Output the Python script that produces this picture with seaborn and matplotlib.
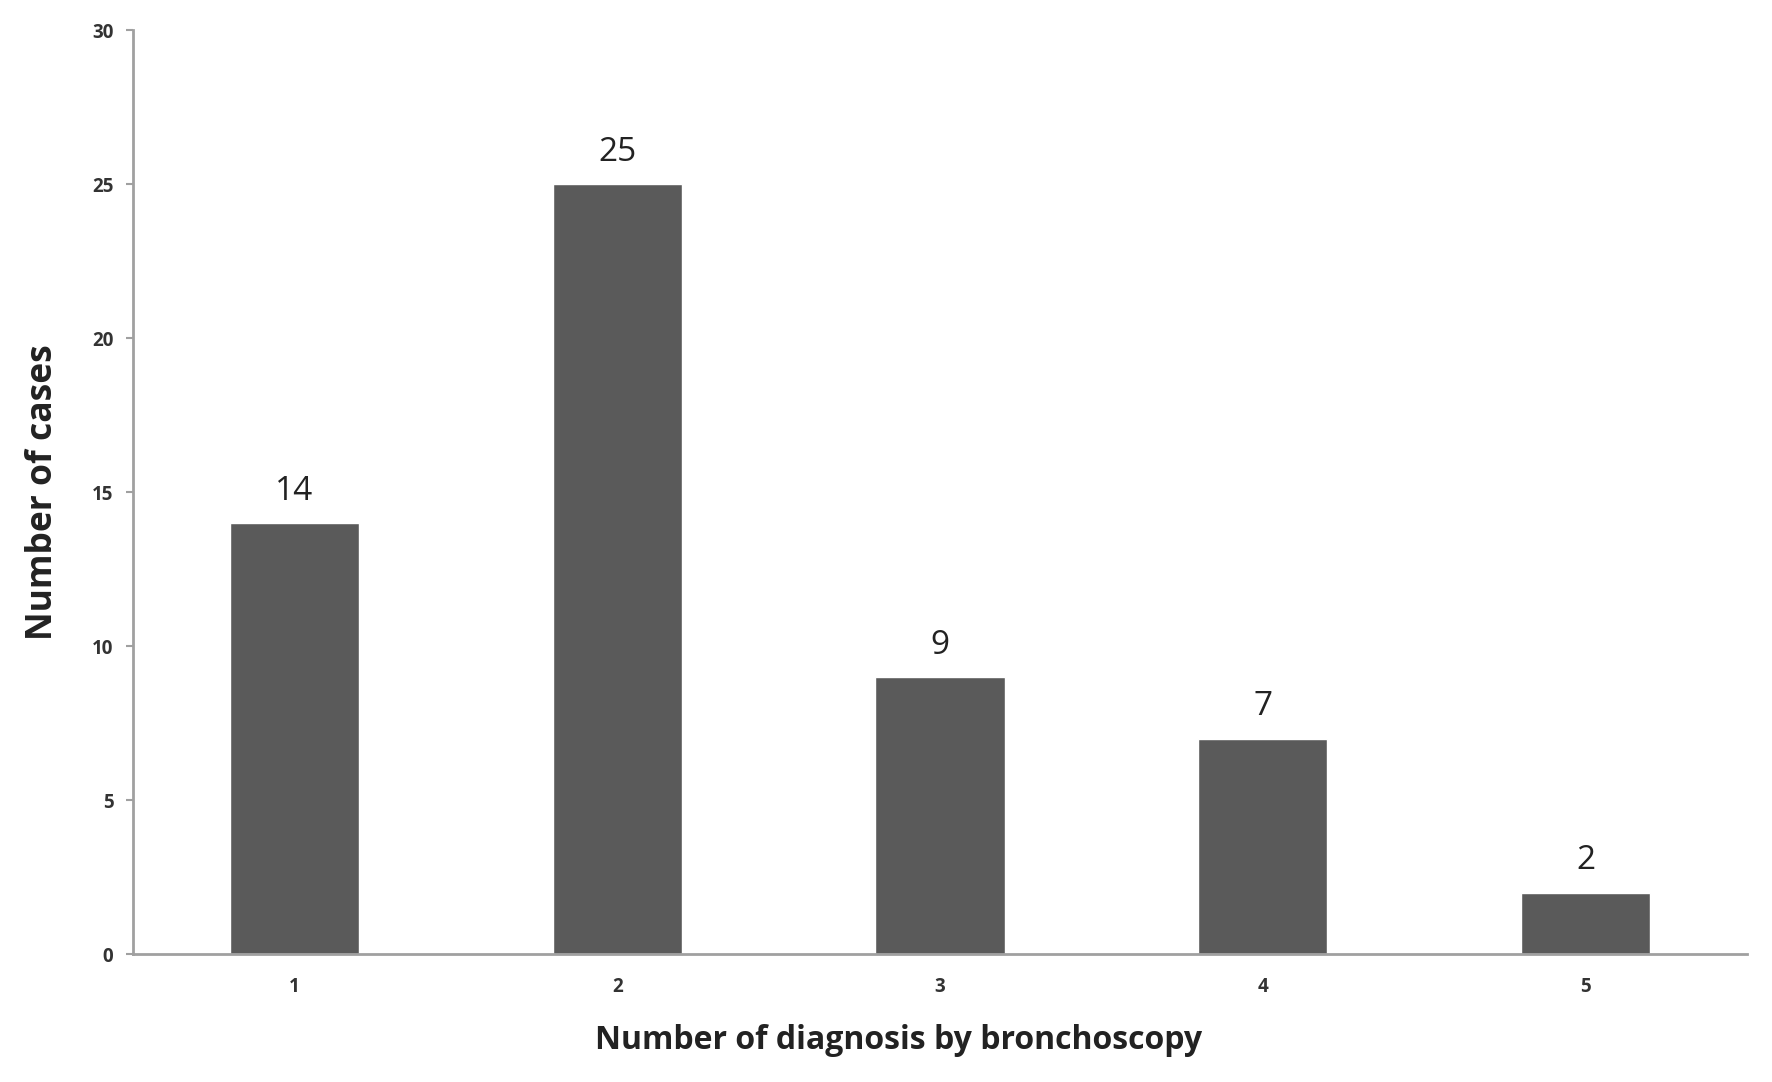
import matplotlib
matplotlib.use('Agg')
import matplotlib.pyplot as plt
import pandas as pd
import seaborn as sns

# values
diagnoses = ['1', '2', '3', '4', '5']
cases = [14, 25, 9, 7, 2]

sns.set_theme(style='white')
plt.rcParams['font.family'] = ['Open Sans', 'DejaVu Sans']

df = pd.DataFrame({'diagnoses': diagnoses, 'cases': cases})

fig = plt.figure(figsize=(17.72, 10.82), dpi=100)
ax = fig.add_axes([0.075, 0.118, 0.911, 0.854])

sns.barplot(data=df, x='diagnoses', y='cases', color='#5a5a5a',
            saturation=1, width=0.4, ax=ax)

for p, v in zip(ax.patches, cases):
    ax.annotate(str(v), (p.get_x() + p.get_width() / 2, p.get_height()),
                xytext=(0, 11), textcoords='offset points',
                ha='center', va='bottom', fontsize=24, color='#222222')

ax.set_ylim(0, 30)
ax.set_xlim(-0.5, 4.5)
ax.set_yticks([0, 5, 10, 15, 20, 25, 30])

sns.despine(ax=ax)
for side in ['left', 'bottom']:
    ax.spines[side].set_color('#a0a0a0')
    ax.spines[side].set_linewidth(2)

ax.tick_params(axis='y', which='both', left=True, length=5, width=1.5,
               color='#a0a0a0', pad=9, labelsize=13.5, labelcolor='#333333')
ax.tick_params(axis='x', bottom=False, pad=10, labelsize=13.5,
               labelcolor='#333333')
for lbl in ax.get_xticklabels() + ax.get_yticklabels():
    lbl.set_fontweight('bold')

ax.set_xlabel('Number of diagnosis by bronchoscopy', fontsize=23,
              fontweight='bold', color='#222222')
ax.xaxis.set_label_coords(0.474, -0.075)
ax.set_ylabel('Number of cases', fontsize=25.5, fontweight='bold',
              color='#222222', labelpad=22)

fig.savefig('out.png', dpi=100)
